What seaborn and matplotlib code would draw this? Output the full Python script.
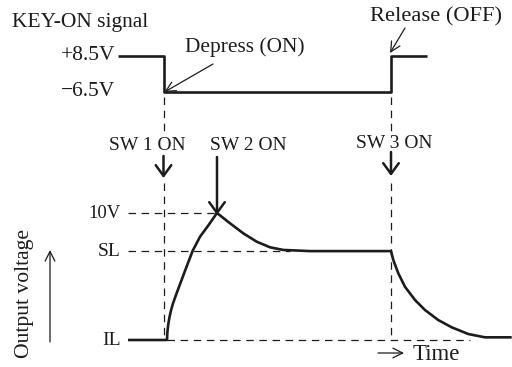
import matplotlib
matplotlib.use("Agg")
import matplotlib.pyplot as plt
import pandas as pd
import seaborn as sns

sns.set_theme(style="white")
plt.rcParams["font.family"] = ["Liberation Serif", "DejaVu Serif"]

# KEY-ON gate signal (time, volts)
key_t = [-4.55, 0.0, 0.0, 22.75, 22.75, 26.35]
key_v = [8.5, 8.5, -6.5, -6.5, 8.5, 8.5]

# Envelope output (time, volts): initial level, attack, decay, sustain, release
out_t = [-3.55, 0.35, 0.39, 0.47, 0.59, 0.75, 0.95, 1.32, 1.82, 2.32, 2.92,
         3.65, 4.48, 5.35,
         6.65, 7.98, 9.32, 10.65, 11.98, 14.65, 22.75,
         22.98, 23.48, 24.15, 25.15, 26.15, 27.48, 28.82, 30.48, 32.15, 34.82]
out_v = [0.0, 0.0, 0.63, 1.20, 1.76, 2.33, 2.88, 3.70, 4.75, 5.80, 7.03,
         8.13, 9.02, 10.0,
         9.19, 8.40, 7.74, 7.30, 7.09, 7.0, 7.0,
         6.30, 5.25, 4.19, 3.15, 2.36, 1.57, 1.0, 0.47, 0.21, 0.21]

level_names = ["10V", "SL", "IL"]
level_values = [10.0, 7.0, 0.0]
level_sizes = [13.5, 14, 14]
key_level_names = ["+8.5V", "\u22126.5V"]
key_level_values = [8.5, -6.5]

t_sw1, t_sw2, t_sw3 = 0.0, 5.35, 22.75

INK = "#1c1c1c"
FS = 14

fig = plt.figure(figsize=(5.12, 3.67), dpi=100)
fig.patch.set_facecolor("white")

xlim = (-16.35, 34.85)
ax_key = fig.add_axes([0, 0, 1, 1])
ax_out = fig.add_axes([0, 0, 1, 1])
ax_px = fig.add_axes([0, 0, 1, 1])
for ax in (ax_key, ax_out, ax_px):
    ax.set_axis_off()
    ax.patch.set_alpha(0)
ax_key.set_xlim(*xlim)
ax_out.set_xlim(*xlim)
ax_key.set_ylim(-121.083, 31.833)
ax_out.set_ylim(-2.126, 26.772)
ax_px.set_xlim(0, 512)
ax_px.set_ylim(367, 0)


def tx(t):
    return 163.5 + 10.0 * t


key_df = pd.DataFrame({"t": key_t, "v": key_v})
out_df = pd.DataFrame({"t": out_t, "v": out_v})
sns.lineplot(data=key_df, x="t", y="v", ax=ax_key, estimator=None, sort=False,
             color=INK, lw=1.9)
sns.lineplot(data=out_df, x="t", y="v", ax=ax_out, estimator=None, sort=False,
             color=INK, lw=1.9)
for ax in (ax_key, ax_out):
    ax.set_xlabel("")
    ax.set_ylabel("")
    for ln in ax.get_lines():
        ln.set_solid_joinstyle("round")
        ln.set_solid_capstyle("butt")

dash = dict(color=INK, lw=0.9, linestyle=(0, (6, 4.5)))

# level guides
ax_out.plot([-3.55, t_sw2], [level_values[0]] * 2, **dash)
ax_out.plot([-3.55, 12.6], [level_values[1]] * 2, **dash)
ax_out.plot([0.35, 30.6], [level_values[2]] * 2, **dash)
for name, v, fs in zip(level_names, level_values, level_sizes):
    ax_out.text(-4.25, v, name, ha="right", va="center", fontsize=fs, color=INK)
for name, v in zip(key_level_names, key_level_values):
    ax_key.text(-4.85, v, name, ha="right", va="center", fontsize=15.5, color=INK)

# vertical timing guides
for t in (t_sw1, t_sw3):
    x = tx(t)
    ax_px.plot([x, x], [97, 131], **dash)
    ax_px.plot([x, x], [183, 340], **dash)

# switch labels and arrows
sw_arrow = dict(arrowstyle="->,head_length=0.55,head_width=0.4", lw=1.8,
                color=INK, mutation_scale=14, shrinkA=0, shrinkB=0)
ax_px.text(tx(t_sw1) - 16, 145, "SW 1 ON", ha="center", va="center",
           fontsize=FS, color=INK)
ax_px.annotate("", xy=(tx(t_sw1), 178), xytext=(tx(t_sw1), 156),
               arrowprops=sw_arrow)
ax_px.text(tx(t_sw2) + 31, 145, "SW 2 ON", ha="center", va="center",
           fontsize=FS, color=INK)
ax_px.annotate("", xy=(tx(t_sw2), 215), xytext=(tx(t_sw2), 157),
               arrowprops=sw_arrow)
ax_px.text(tx(t_sw3) + 3, 143, "SW 3 ON", ha="center", va="center",
           fontsize=FS, color=INK)
ax_px.annotate("", xy=(tx(t_sw3), 176), xytext=(tx(t_sw3), 152),
               arrowprops=sw_arrow)

# gate annotations
thin_arrow = dict(arrowstyle="->,head_length=0.5,head_width=0.25", lw=0.9,
                  color=INK, mutation_scale=14, shrinkA=0, shrinkB=0)
ax_px.text(12, 22, "KEY-ON signal", ha="left", va="center", fontsize=15.5, color=INK)
ax_px.text(185, 47, "Depress (ON)", ha="left", va="center", fontsize=15.4, color=INK)
ax_px.annotate("", xy=(tx(t_sw1) + 1, 92), xytext=(213, 64), arrowprops=thin_arrow)
ax_px.text(370, 17, "Release (OFF)", ha="left", va="center", fontsize=16.2, color=INK)
ax_px.annotate("", xy=(tx(t_sw3) - 1, 53), xytext=(405, 28), arrowprops=thin_arrow)

# axis captions
ax_px.text(24, 293, "Output voltage", rotation=90, ha="center", va="center",
           fontsize=15.6, color=INK)
ax_px.annotate("", xy=(50, 250), xytext=(50, 342), arrowprops=thin_arrow)
ax_px.annotate("", xy=(404, 353), xytext=(378, 353), arrowprops=thin_arrow)
ax_px.text(413, 354, "Time", ha="left", va="center", fontsize=16.5, color=INK)

fig.savefig("out.png", dpi=100, facecolor="white")
